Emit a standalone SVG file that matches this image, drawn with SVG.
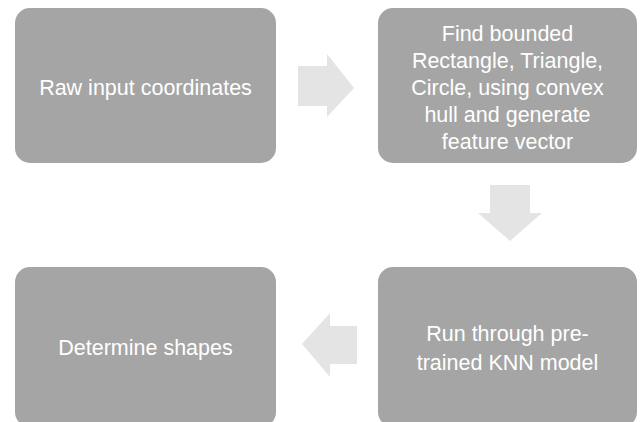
<svg xmlns="http://www.w3.org/2000/svg" width="643" height="422" viewBox="0 0 643 422">
<style>
.box{fill:#a5a5a5;}
.arr{fill:#e4e4e4;}
text{font-family:"Liberation Sans",Arial,sans-serif;font-size:21.5px;fill:#ffffff;text-anchor:middle;}
</style>
<rect width="643" height="422" fill="#ffffff"/>
<g id="node-raw"><rect class="box" x="15" y="8" width="261" height="155" rx="15"/><text x="145.5" y="95">Raw input coordinates</text></g>
<g id="node-find"><rect class="box" x="378" y="8" width="259" height="155" rx="15"/>
<text x="507.5" y="41">Find bounded</text>
<text x="507.5" y="68">Rectangle, Triangle,</text>
<text x="507.5" y="95">Circle, using convex</text>
<text x="507.5" y="122">hull and generate</text>
<text x="507.5" y="149">feature vector</text></g>
<g id="node-run"><rect class="box" x="378" y="267" width="259" height="160" rx="15"/>
<text x="507.5" y="341">Run through pre-</text>
<text x="507.5" y="370">trained KNN model</text></g>
<g id="node-determine"><rect class="box" x="15" y="267" width="261" height="160" rx="15"/><text x="145.5" y="355">Determine shapes</text></g>
<g id="connectors">
<polygon class="arr" points="298,66 327,66 327,54 354,88 327,117 327,106 298,106"/>
<polygon class="arr" points="490,185 530,185 530,213 542,213 510,241 478,213 490,213"/>
<polygon class="arr" points="357,326 330,326 330,313 302,344 330,377 330,364 357,364"/>
</g>
</svg>
